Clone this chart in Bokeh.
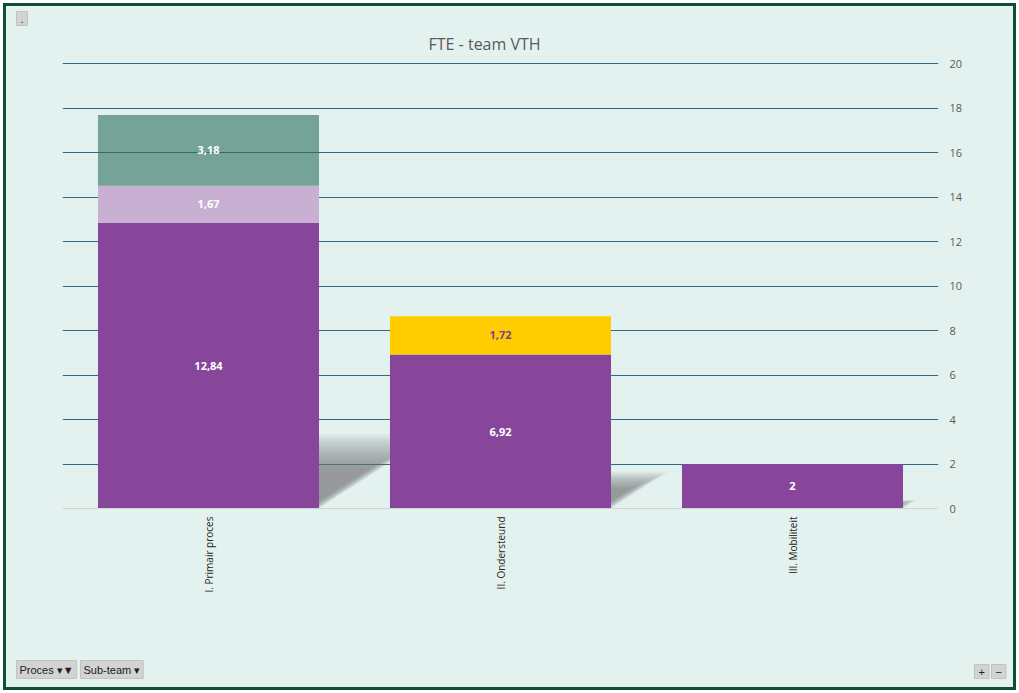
import math

from bokeh.core.properties import value
from bokeh.embed import file_html
from bokeh.layouts import column
from bokeh.models import ColumnDataSource, FixedTicker, Range1d, Title
from bokeh.plotting import figure
from bokeh.resources import INLINE

# --- data -------------------------------------------------------------
categories = ["I. Primair proces", "II. Ondersteund", "III. Mobiliteit"]
sub_team_names = ["team_a", "team_b", "team_c", "team_d"]
team_a = [12.84, 6.92, 2.0]
team_b = [1.67, 0.0, 0.0]
team_c = [3.18, 0.0, 0.0]
team_d = [0.0, 1.72, 0.0]
y_ticks = [0, 2, 4, 6, 8, 10, 12, 14, 16, 18, 20]

# --- styling ----------------------------------------------------------
W, H = 1007, 681                               # canvas inside the green frame
LEFT, RIGHT, TOP, BOTTOM = 56, 75, 56, 179     # space around the plot area
Y_MAX = 20 * 446 / 445                         # keeps the top gridline inside
BG = "#E4F2EF"
FRAME = "#0C4F36"
GRID = "#2E6B86"
TEXT = "#595959"
BTN_BG = "#D3D3D3"
BTN_LINE = "#C2C2C2"
colors = ["#874699", "#C9AFD2", "#2D6E5B", "#FFCC00"]
alphas = [1.0, 1.0, 0.6, 1.0]
label_colors = ["#FFFFFF", "#FFFFFF", "#FFFFFF", "#7B3F8E"]
BAR_W = 0.757
FONT = value("Open Sans")

x_pos = [i + 0.5 for i in range(len(categories))]

source = ColumnDataSource(dict(x=x_pos, team_a=team_a, team_b=team_b,
                               team_c=team_c, team_d=team_d))

p = figure(
    width=W, height=H,
    x_range=Range1d(0, len(categories)), y_range=Range1d(0, Y_MAX),
    y_axis_location="right",
    output_backend="svg", toolbar_location=None,
    min_border_left=LEFT, min_border_right=RIGHT,
    min_border_top=TOP, min_border_bottom=BOTTOM,
    background_fill_color=BG, border_fill_color=BG,
)
p.outline_line_color = None


def boxed_title(text, offset, standoff, place, pad=3):
    t = Title(
        text=text, align="left", offset=offset, standoff=standoff,
        vertical_align="bottom",
        text_font="Liberation Sans", text_font_size="11px",
        text_font_style="normal", text_color="#202020",
        background_fill_color=BTN_BG, border_line_color=BTN_LINE,
        padding=pad,
    )
    p.add_layout(t, place)
    return t


# chart title (inner row of the top panel)
main_title = Title(
    text="FTE - team VTH", align="left", offset=366, standoff=16,
    text_font="Open Sans", text_font_size="16px", text_font_style="normal",
    text_color=TEXT,
)
p.add_layout(main_title, "above")

# small field button in the top-left corner (outer row of the top panel)
p.title.text = "."
p.title.align = "left"
p.title.offset = -46
p.title.standoff = -6
p.title.text_font = "Liberation Sans"
p.title.text_font_size = "11px"
p.title.text_font_style = "normal"
p.title.text_color = "#202020"
p.title.background_fill_color = BTN_BG
p.title.border_line_color = BTN_LINE
p.title.padding = (4, 3)

# perspective shadows cast by each stacked column (soft edges via layers)
totals = [a + b + c + d for a, b, c, d in zip(team_a, team_b, team_c, team_d)]
n_layers = 14
for layer in range(n_layers):
    xs, ys = [], []
    for xc, tot in zip(x_pos, totals):
        h = 0.19 * tot * (1.0 - 0.035 * layer)
        dx = 0.118 * h
        x0 = xc - BAR_W / 2
        x1 = xc + BAR_W / 2 - 0.003 * layer
        xs.append([x0, x1, x1 + dx, x0 + dx])
        ys.append([0, 0, h, h])
    p.patches(xs, ys, fill_color="#6C7772", fill_alpha=0.07, line_color=None)

# stacked columns
p.vbar_stack(
    sub_team_names, x="x", width=BAR_W, source=source,
    fill_color=colors, fill_alpha=alphas, line_color=None,
)

# value labels centred in each segment
lx, ly, lt, lc = [], [], [], []
series = [team_a, team_b, team_c, team_d]
for i, xc in enumerate(x_pos):
    base = 0.0
    for s, vals in enumerate(series):
        v = vals[i]
        if v > 0:
            lx.append(xc)
            ly.append(base + v / 2)
            lt.append(f"{v:g}".replace(".", ","))
            lc.append(label_colors[s])
            base += v
p.text(
    x=lx, y=ly, text=lt, text_color=lc,
    text_align="center", text_baseline="middle",
    text_font=FONT, text_font_size="11px", text_font_style="bold",
)

# axes and grid
p.xgrid.visible = False
p.ygrid.ticker = FixedTicker(ticks=[t for t in y_ticks if t > 0])
p.ygrid.grid_line_color = GRID
p.ygrid.grid_line_width = 1

p.yaxis.ticker = FixedTicker(ticks=y_ticks)
p.yaxis.axis_line_color = None
p.yaxis.major_tick_line_color = None
p.yaxis.minor_tick_line_color = None
p.yaxis.major_tick_out = 0
p.yaxis.minor_tick_out = 0
p.yaxis.major_label_standoff = 11
p.yaxis.major_label_text_font = "Open Sans"
p.yaxis.major_label_text_font_size = "11px"
p.yaxis.major_label_text_color = TEXT

p.xaxis.ticker = FixedTicker(ticks=x_pos)
overrides = {}
for xc, name in zip(x_pos, categories):
    overrides[xc] = name
    overrides[str(xc)] = name
p.xaxis.major_label_overrides = overrides
p.xaxis.major_label_orientation = math.pi / 2
p.xaxis.axis_line_color = "#D0D6D4"
p.xaxis.major_tick_line_color = None
p.xaxis.minor_tick_line_color = None
p.xaxis.major_tick_out = 0
p.xaxis.minor_tick_out = 0
p.xaxis.major_label_standoff = 8
p.xaxis.major_label_text_font = "Open Sans"
p.xaxis.major_label_text_font_size = "10px"
p.xaxis.major_label_text_color = "#262626"

# bottom panel: an empty spacer row, then the field buttons sharing one row
spacer = Title(text=" ", standoff=59, text_font_size="11px",
               text_font="Liberation Sans")
p.add_layout(spacer, "below")
boxed_title("Proces ▾▼", -46, -20, "below")
boxed_title("Sub-team ▾", 18, -20, "below")
boxed_title("+", 912, -20, "below", pad=(4, 3))
boxed_title("−", 929, -20, "below", pad=(4, 3))

layout = column(
    p,
    styles={"background-color": BG, "border": f"3px solid {FRAME}",
            "margin": "3px"},
)

open("out.html", "w").write(file_html(layout, INLINE))
